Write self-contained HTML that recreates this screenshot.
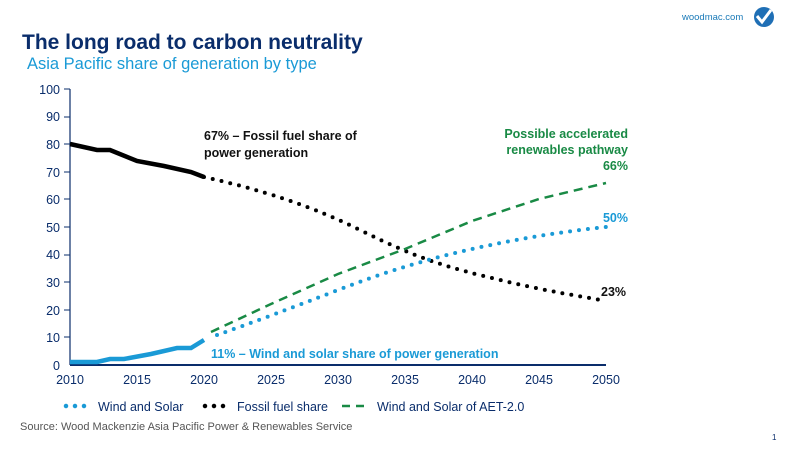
<!DOCTYPE html><html><head><style>body{margin:0;width:800px;height:450px;background:#fff;overflow:hidden;font-family:"Liberation Sans",sans-serif}</style></head><body>
<svg width="800" height="450" xmlns="http://www.w3.org/2000/svg" font-family="Liberation Sans, sans-serif">
<text x="22" y="49" font-size="21" font-weight="bold" fill="#0a2d6b">The long road to carbon neutrality</text>
<text x="27" y="69" font-size="16.5" fill="#1a9ad6">Asia Pacific share of generation by type</text>
<text x="682" y="20" font-size="9.5" fill="#1a7ab8">woodmac.com</text>
<circle cx="764" cy="17" r="10" fill="#1f6fb5"/><path d="M757 16 l5 6 l9 -12" stroke="#fff" stroke-width="3" fill="none"/>
<g stroke="#0a2d6b" stroke-width="1.2"><line x1="70" y1="89" x2="70" y2="365"/><line x1="70" y1="365" x2="606" y2="365" stroke-width="2"/></g>
<g font-size="12.5" fill="#0a2d6b" text-anchor="end">
<text x="60" y="94">100</text><text x="60" y="121">90</text><text x="60" y="149">80</text><text x="60" y="177">70</text><text x="60" y="204">60</text><text x="60" y="232">50</text><text x="60" y="259">40</text><text x="60" y="287">30</text><text x="60" y="315">20</text><text x="60" y="342">10</text><text x="60" y="370">0</text></g>
<g stroke="#0a2d6b"><line x1="64" y1="89" x2="70" y2="89"/><line x1="64" y1="117" x2="70" y2="117"/><line x1="64" y1="144" x2="70" y2="144"/><line x1="64" y1="172" x2="70" y2="172"/><line x1="64" y1="199" x2="70" y2="199"/><line x1="64" y1="227" x2="70" y2="227"/><line x1="64" y1="255" x2="70" y2="255"/><line x1="64" y1="282" x2="70" y2="282"/><line x1="64" y1="310" x2="70" y2="310"/><line x1="64" y1="337" x2="70" y2="337"/></g>
<g font-size="12.5" fill="#0a2d6b" text-anchor="middle">
<text x="70" y="384">2010</text><text x="137" y="384">2015</text><text x="204" y="384">2020</text><text x="271" y="384">2025</text><text x="338" y="384">2030</text><text x="405" y="384">2035</text><text x="472" y="384">2040</text><text x="539" y="384">2045</text><text x="606" y="384">2050</text></g>
<polyline points="70,144 97,150 110,150 137,161 164,166 191,172 204,177" fill="none" stroke="#000" stroke-width="4.5"/>
<path d="M204,177 C240,185 300,200 360,230 S450,268 500,280 S580,296 606,301" fill="none" stroke="#000" stroke-width="4" stroke-linecap="round" stroke-dasharray="0 9"/>
<polyline points="70,362 97,362 110,359 124,359 151,354 177,348 191,348 204,340" fill="none" stroke="#1a9ad6" stroke-width="4.5"/>
<path d="M217,335 Q271,316 338,290 T472,249 T606,227" fill="none" stroke="#1a9ad6" stroke-width="4" stroke-linecap="round" stroke-dasharray="0 9"/>
<path d="M211,332 L271,304 L338,274 L405,249 L472,221 L539,199 L606,183" fill="none" stroke="#198a45" stroke-width="2.5" stroke-dasharray="9 6"/>
<g font-size="12.5" font-weight="bold">
<text x="204" y="140" fill="#111">67% – Fossil fuel share of</text><text x="204" y="157" fill="#111">power generation</text>
<text x="628" y="138" fill="#198a45" text-anchor="end">Possible accelerated</text><text x="628" y="154" fill="#198a45" text-anchor="end">renewables pathway</text><text x="628" y="170" fill="#198a45" text-anchor="end">66%</text>
<text x="628" y="222" fill="#1a9ad6" text-anchor="end">50%</text>
<text x="601" y="296" fill="#111">23%</text>
<text x="211" y="358" fill="#1a9ad6">11% – Wind and solar share of power generation</text></g>
<g font-size="12.5" fill="#0a2d6b">
<path d="M66,406 L92,406" stroke="#1a9ad6" stroke-width="4.5" stroke-linecap="round" stroke-dasharray="0 9"/><text x="98" y="411">Wind and Solar</text>
<path d="M205,406 L231,406" stroke="#000" stroke-width="4.5" stroke-linecap="round" stroke-dasharray="0 9"/><text x="237" y="411">Fossil fuel share</text>
<path d="M342,406 L370,406" stroke="#198a45" stroke-width="2.5" stroke-dasharray="8 6"/><text x="377" y="411">Wind and Solar of AET-2.0</text></g>
<text x="20" y="430" font-size="11" fill="#555">Source: Wood Mackenzie Asia Pacific Power &amp; Renewables Service</text>
<text x="772" y="440" font-size="8" fill="#0a2d6b">1</text>
</svg></body></html>
